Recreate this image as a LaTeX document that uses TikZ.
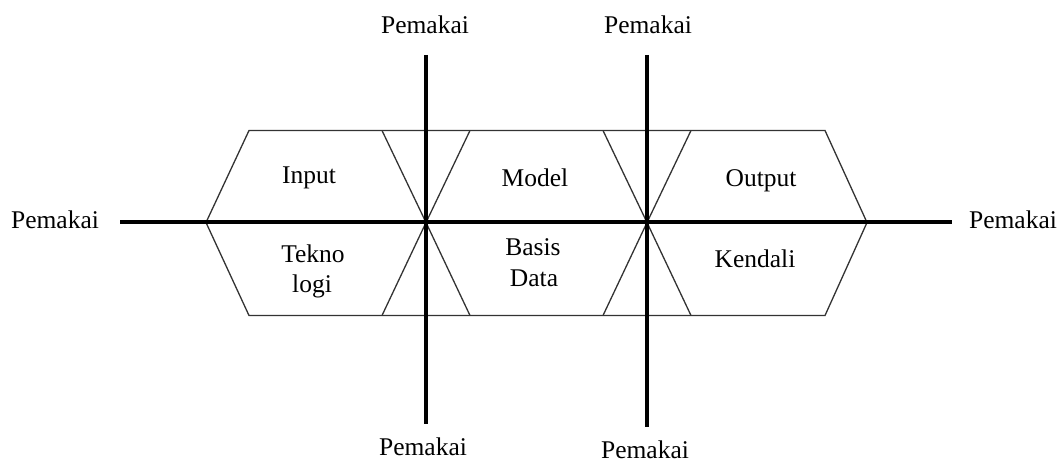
\documentclass[tikz,border=0pt]{standalone}
\usepackage{fontspec}
\setmainfont{Liberation Serif}
\begin{document}
\begin{tikzpicture}[x=1pt,y=-1pt,
  thinline/.style={draw=black!80,line width=1.3pt},
  axis/.style={draw=black,line width=4pt},
  lbl/.style={anchor=base,inner sep=0pt,font=\fontsize{25.5}{30}\selectfont}]
\useasboundingbox (0,0) rectangle (1064,462);
% hexagon outline
\coordinate (tl) at (249,130.5);
\coordinate (tr) at (825,130.5);
\coordinate (bl) at (249,315.5);
\coordinate (br) at (825,315.5);
\coordinate (lv) at (206,222.5);
\coordinate (rv) at (867,222.5);
\coordinate (c1) at (426,222.5);
\coordinate (c2) at (647,222.5);
\draw[thinline] (tl) -- (tr) -- (rv) -- (br) -- (bl) -- (lv) -- cycle;
\draw[thinline] (382,130.5) -- (c1) -- (382,315.5);
\draw[thinline] (470,130.5) -- (c1) -- (470,315.5);
\draw[thinline] (603,130.5) -- (c2) -- (603,315.5);
\draw[thinline] (691,130.5) -- (c2) -- (691,315.5);
% labels
\node[lbl] (pl) at (55,229) {Pemakai};
\node[lbl] (pr) at (1013,229) {Pemakai};
\node[lbl] (pt1) at (425,34) {Pemakai};
\node[lbl] (pt2) at (648,34) {Pemakai};
\node[lbl,text depth=0pt] (pb1) at (423,455) {Pemakai};
\node[lbl,text depth=0pt] (pb2) at (645,458) {Pemakai};
\node[lbl] (input) at (309,184) {Input};
\node[lbl] (tekno) at (313,262) {Tekno};
\node[lbl] (logi) at (312,292) {logi};
\node[lbl] (model) at (535,187) {Model};
\node[lbl] (basis) at (533,255) {Basis};
\node[lbl] (data) at (534,286) {Data};
\node[lbl] (output) at (761,187) {Output};
\node[lbl] (kendali) at (755,267) {Kendali};
% axes
\coordinate (hL) at (120,222.5);
\coordinate (hR) at (952,222.5);
\coordinate (v1t) at (426,55);
\coordinate (v1b) at (426,424);
\coordinate (v2t) at (647,55);
\coordinate (v2b) at (647,427);
\draw[axis] (hL) -- (hR);
\draw[axis] (v1t) -- (v1b);
\draw[axis] (v2t) -- (v2b);
\end{tikzpicture}
\end{document}
